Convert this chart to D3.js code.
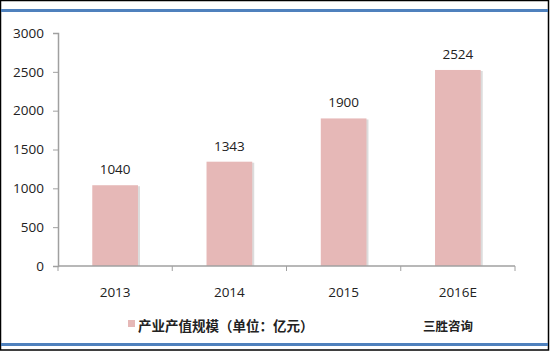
<!DOCTYPE html>
<html><head><meta charset="utf-8">
<script src="https://cdn.jsdelivr.net/npm/d3@7"></script>
<style>
body{margin:0;background:#fff;}
svg{display:block;}
</style></head>
<body>
<svg id="c" width="550" height="351"></svg>
<script>
const categories = ["2013","2014","2015","2016E"];
const values = [1040,1343,1900,2524];
const yTicks = [0,500,1000,1500,2000,2500,3000];
const legendLabel = "产业产值规模（单位：亿元）";
const sourceLabel = "三胜咨询";

const svg = d3.select("#c");
const W=550,H=351;
svg.append("rect").attr("x",0).attr("y",0).attr("width",W).attr("height",H).attr("fill","#fff");
// frame
svg.append("rect").attr("x",0.5).attr("y",0.5).attr("width",W-2).attr("height",H-1.5).attr("fill","none").attr("stroke","#000").attr("stroke-width",1.5);
svg.append("line").attr("x1",1).attr("x2",W-2).attr("y1",10.5).attr("y2",10.5).attr("stroke","#4f81bd").attr("stroke-width",3);
svg.append("line").attr("x1",1).attr("x2",W-2).attr("y1",344.5).attr("y2",344.5).attr("stroke","#4f81bd").attr("stroke-width",3);

const x = d3.scaleBand().domain(categories).range([58,515]).paddingInner(0.6).paddingOuter(0.3);
const y = d3.scaleLinear().domain([0,3000]).range([266,33]);
const font = "'Open Sans','DejaVu Sans',sans-serif";

// y axis
const ya = svg.append("g").attr("transform","translate(58,0)")
  .call(d3.axisLeft(y).tickValues(yTicks).tickFormat(d3.format("d")).tickSize(5).tickPadding(9));
ya.select(".domain").attr("stroke","#a0a0a0").attr("stroke-width",1.5);
ya.selectAll(".tick line").attr("stroke","#a0a0a0");
ya.selectAll(".tick text").attr("font-family",font).attr("font-size",13.5).attr("fill","#222");

// bars shadow + bars
svg.append("g").selectAll("rect").data(values).join("rect")
  .attr("x",(d,i)=>x(categories[i])+2).attr("y",d=>y(d)+1)
  .attr("width",x.bandwidth()).attr("height",d=>y(0)-y(d)-1)
  .attr("fill","#dcdcdc");
svg.append("g").selectAll("rect").data(values).join("rect")
  .attr("x",(d,i)=>x(categories[i])).attr("y",d=>y(d))
  .attr("width",x.bandwidth()).attr("height",d=>y(0)-y(d))
  .attr("fill","#e6b8b7");

// x axis
const xLin = d3.scaleLinear().domain([0,4]).range([58,515]);
const xa = svg.append("g").attr("transform","translate(0,266)");
xa.append("line").attr("x1",58).attr("x2",515).attr("stroke","#a0a0a0").attr("stroke-width",1.5);
xa.selectAll("line.t").data(d3.range(5)).join("line").attr("class","t")
  .attr("x1",d=>xLin(d)).attr("x2",d=>xLin(d)).attr("y1",0).attr("y2",5).attr("stroke","#a0a0a0");
xa.selectAll("text").data(categories).join("text")
  .attr("x",d=>x(d)+x.bandwidth()/2).attr("y",31)
  .attr("text-anchor","middle").attr("font-family",font).attr("font-size",13.5).attr("fill","#222").text(d=>d);

// value labels
svg.append("g").selectAll("text").data(values).join("text")
  .attr("x",(d,i)=>x(categories[i])+x.bandwidth()/2).attr("y",d=>y(d)-11)
  .attr("text-anchor","middle").attr("font-family",font).attr("font-size",13.5).attr("fill","#222").text(d=>d);

// legend
svg.append("rect").attr("x",128).attr("y",320).attr("width",7).attr("height",7).attr("fill","#e6b8b7");
svg.append("text").attr("x",138).attr("y",331).attr("font-family","'Noto Sans CJK SC',sans-serif")
  .attr("font-size",13.5).attr("font-weight","bold").attr("fill","#222").text(legendLabel);
svg.append("text").attr("x",423).attr("y",331).attr("font-family","'Noto Sans CJK SC',sans-serif")
  .attr("font-size",12.5).attr("font-weight","bold").attr("fill","#222").text(sourceLabel);
</script>
</body></html>
